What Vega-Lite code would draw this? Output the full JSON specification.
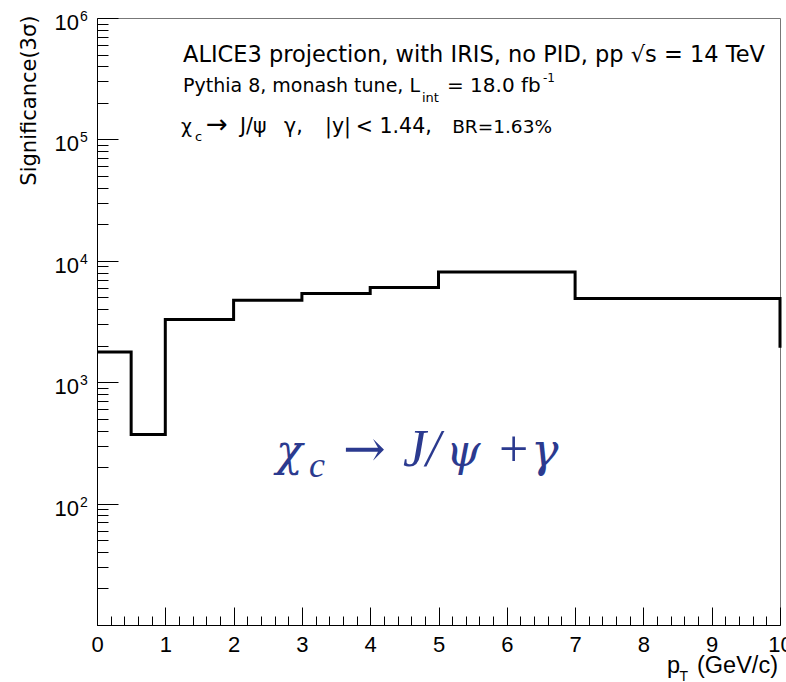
{
  "$schema": "https://vega.github.io/schema/vega-lite/v6.json",
  "width": 683,
  "height": 607,
  "autosize": {"type": "none"},
  "padding": {"left": 97, "top": 18, "right": 6, "bottom": 57},
  "background": "white",
  "config": {
    "view": {"stroke": "#777777", "strokeWidth": 1},
    "text": {"font": "DejaVu Sans", "color": "black", "align": "left", "baseline": "alphabetic"},
    "axis": {"grid": false, "domainColor": "black", "tickColor": "black", "labelColor": "black", "titleColor": "black", "domainWidth": 1, "tickWidth": 1}
  },
  "datasets": {
    "hist": [
      {"pt": 0, "sig": 1770},
      {"pt": 0.5, "sig": 370},
      {"pt": 1, "sig": 3290},
      {"pt": 2, "sig": 4740},
      {"pt": 3, "sig": 5380},
      {"pt": 4, "sig": 6040},
      {"pt": 5, "sig": 8070},
      {"pt": 7, "sig": 4900},
      {"pt": 10, "sig": 4900},
      {"pt": 10, "sig": 1920}
    ],
    "decades": [
      {"v": 100, "e": "2"},
      {"v": 1000, "e": "3"},
      {"v": 10000, "e": "4"},
      {"v": 100000, "e": "5"},
      {"v": 1000000, "e": "6"}
    ],
    "one": [{}]
  },
  "resolve": {"axis": {"x": "independent", "y": "independent"}},
  "layer": [
    {
      "data": {"name": "hist"},
      "mark": {"type": "line", "interpolate": "step-after", "color": "black", "strokeWidth": 3, "strokeJoin": "miter", "clip": false},
      "encoding": {
        "x": {"field": "pt", "type": "quantitative",
          "scale": {"domain": [0, 10], "nice": false, "zero": false},
          "axis": {"orient": "bottom", "values": [0,1,2,3,4,5,6,7,8,9,10], "tickSize": -18, "labelFont": "Liberation Sans", "labelFontSize": 22, "labelPadding": 27, "labelFlush": false, "labelOverlap": false, "labelBound": false, "format": "d", "title": null}},
        "y": {"field": "sig", "type": "quantitative",
          "scale": {"type": "log", "domain": [10, 1000000], "nice": false},
          "axis": {"orient": "left", "values": [10,100,1000,10000,100000,1000000], "tickSize": -21, "labels": false,
            "title": "Significance(3σ)", "titleFont": "DejaVu Sans", "titleFontSize": 21, "titleFontWeight": "normal",
            "titleAngle": -90, "titleAnchor": "end", "titleAlign": "right", "titleBaseline": "alphabetic", "titleX": -62, "titleY": -3}},
        "order": {"value": null}
      }
    },
    {
      "data": {"name": "decades"},
      "mark": {"type": "text", "align": "right", "font": "Liberation Sans", "dx": -18, "dy": 12, "fontSize": 22},
      "encoding": {
        "x": {"datum": 0, "type": "quantitative",
          "axis": {"orient": "bottom", "values": [0.2,0.4,0.6,0.8,1.2,1.4,1.6,1.8,2.2,2.4,2.6,2.8,3.2,3.4,3.6,3.8,4.2,4.4,4.6,4.8,5.2,5.4,5.6,5.8,6.2,6.4,6.6,6.8,7.2,7.4,7.6,7.8,8.2,8.4,8.6,8.8,9.2,9.4,9.6,9.8], "tickSize": -9, "labels": false, "domain": false, "title": null}},
        "y": {"field": "v", "type": "quantitative",
          "axis": {"orient": "left", "values": [20,30,40,50,60,70,80,90,200,300,400,500,600,700,800,900,2000,3000,4000,5000,6000,7000,8000,9000,20000,30000,40000,50000,60000,70000,80000,90000,200000,300000,400000,500000,600000,700000,800000,900000], "tickSize": -11, "labels": false, "domain": false, "title": null}},
        "text": {"value": "10"}
      }
    },
    {
      "data": {"name": "decades"},
      "mark": {"type": "text", "font": "Liberation Sans", "dx": -17, "dy": 3, "fontSize": 14},
      "encoding": {
        "x": {"datum": 0, "type": "quantitative", "axis": null},
        "y": {"field": "v", "type": "quantitative", "axis": null},
        "text": {"field": "e"}
      }
    },
    {
      "data": {"name": "one"},
      "mark": {"type": "text", "fontSize": 22.5},
      "encoding": {"x": {"datum": 1.259, "type": "quantitative", "axis": null}, "y": {"datum": 434000, "type": "quantitative", "axis": null}, "text": {"value": "ALICE3 projection, with IRIS, no PID, pp √s = 14 TeV"}}
    },
    {
      "data": {"name": "one"},
      "mark": {"type": "text", "fontSize": 19},
      "encoding": {"x": {"datum": 1.259, "type": "quantitative", "axis": null}, "y": {"datum": 244000, "type": "quantitative", "axis": null}, "text": {"value": "Pythia 8, monash tune, L"}}
    },
    {
      "data": {"name": "one"},
      "mark": {"type": "text", "fontSize": 13},
      "encoding": {"x": {"datum": 4.758, "type": "quantitative", "axis": null}, "y": {"datum": 204700, "type": "quantitative", "axis": null}, "text": {"value": "int"}}
    },
    {
      "data": {"name": "one"},
      "mark": {"type": "text", "fontSize": 20},
      "encoding": {"x": {"datum": 5.124, "type": "quantitative", "axis": null}, "y": {"datum": 244000, "type": "quantitative", "axis": null}, "text": {"value": "= 18.0 fb"}}
    },
    {
      "data": {"name": "one"},
      "mark": {"type": "text", "fontSize": 12},
      "encoding": {"x": {"datum": 6.53, "type": "quantitative", "axis": null}, "y": {"datum": 299000, "type": "quantitative", "axis": null}, "text": {"value": "-1"}}
    },
    {
      "data": {"name": "one"},
      "mark": {"type": "text", "fontSize": 19},
      "encoding": {"x": {"datum": 1.23, "type": "quantitative", "axis": null}, "y": {"datum": 113500, "type": "quantitative", "axis": null}, "text": {"value": "χ"}}
    },
    {
      "data": {"name": "one"},
      "mark": {"type": "text", "fontSize": 13},
      "encoding": {"x": {"datum": 1.435, "type": "quantitative", "axis": null}, "y": {"datum": 97500, "type": "quantitative", "axis": null}, "text": {"value": "c"}}
    },
    {
      "data": {"name": "one"},
      "mark": {"type": "text", "fontSize": 26},
      "encoding": {"x": {"datum": 1.596, "type": "quantitative", "axis": null}, "y": {"datum": 113500, "type": "quantitative", "axis": null}, "text": {"value": "→"}}
    },
    {
      "data": {"name": "one"},
      "mark": {"type": "text", "fontSize": 20.5},
      "encoding": {"x": {"datum": 2.094, "type": "quantitative", "axis": null}, "y": {"datum": 113500, "type": "quantitative", "axis": null}, "text": {"value": "J/ψ"}}
    },
    {
      "data": {"name": "one"},
      "mark": {"type": "text", "fontSize": 20.5},
      "encoding": {"x": {"datum": 2.738, "type": "quantitative", "axis": null}, "y": {"datum": 113500, "type": "quantitative", "axis": null}, "text": {"value": "γ,"}}
    },
    {
      "data": {"name": "one"},
      "mark": {"type": "text", "fontSize": 20.5},
      "encoding": {"x": {"datum": 3.338, "type": "quantitative", "axis": null}, "y": {"datum": 113500, "type": "quantitative", "axis": null}, "text": {"value": "|y|"}}
    },
    {
      "data": {"name": "one"},
      "mark": {"type": "text", "fontSize": 20.5},
      "encoding": {"x": {"datum": 3.79, "type": "quantitative", "axis": null}, "y": {"datum": 113500, "type": "quantitative", "axis": null}, "text": {"value": "< 1.44,"}}
    },
    {
      "data": {"name": "one"},
      "mark": {"type": "text", "fontSize": 18.5},
      "encoding": {"x": {"datum": 5.2, "type": "quantitative", "axis": null}, "y": {"datum": 113500, "type": "quantitative", "axis": null}, "text": {"value": "BR=1.63%"}}
    },
    {
      "data": {"name": "one"},
      "mark": {"type": "text", "font": "DejaVu Serif", "fontStyle": "italic", "fontSize": 44, "color": "#2B3A8F"},
      "encoding": {"x": {"datum": 2.621, "type": "quantitative", "axis": null}, "y": {"datum": 204, "type": "quantitative", "axis": null}, "text": {"value": "χ"}}
    },
    {
      "data": {"name": "one"},
      "mark": {"type": "text", "font": "Liberation Serif", "fontStyle": "italic", "fontSize": 36, "color": "#2B3A8F"},
      "encoding": {"x": {"datum": 3.104, "type": "quantitative", "axis": null}, "y": {"datum": 165.6, "type": "quantitative", "axis": null}, "text": {"value": "c"}}
    },
    {
      "data": {"name": "one"},
      "mark": {"type": "text", "font": "DejaVu Serif", "fontSize": 51, "color": "#2B3A8F"},
      "encoding": {"x": {"datum": 3.602, "type": "quantitative", "axis": null}, "y": {"datum": 204, "type": "quantitative", "axis": null}, "text": {"value": "→"}}
    },
    {
      "data": {"name": "one"},
      "mark": {"type": "text", "font": "Liberation Serif", "fontStyle": "italic", "fontSize": 52, "color": "#2B3A8F"},
      "encoding": {"x": {"datum": 4.48, "type": "quantitative", "axis": null}, "y": {"datum": 204, "type": "quantitative", "axis": null}, "text": {"value": "J/"}}
    },
    {
      "data": {"name": "one"},
      "mark": {"type": "text", "font": "DejaVu Serif", "fontStyle": "italic", "fontSize": 44, "color": "#2B3A8F"},
      "encoding": {"x": {"datum": 5.11, "type": "quantitative", "axis": null}, "y": {"datum": 204, "type": "quantitative", "axis": null}, "text": {"value": "ψ"}}
    },
    {
      "data": {"name": "one"},
      "mark": {"type": "text", "font": "Liberation Serif", "fontSize": 52, "color": "#2B3A8F"},
      "encoding": {"x": {"datum": 5.886, "type": "quantitative", "axis": null}, "y": {"datum": 204, "type": "quantitative", "axis": null}, "text": {"value": "+"}}
    },
    {
      "data": {"name": "one"},
      "mark": {"type": "text", "font": "DejaVu Serif", "fontStyle": "italic", "fontSize": 46, "color": "#2B3A8F"},
      "encoding": {"x": {"datum": 6.354, "type": "quantitative", "axis": null}, "y": {"datum": 204, "type": "quantitative", "axis": null}, "text": {"value": "γ"}}
    },
    {
      "data": {"name": "one"},
      "mark": {"type": "text", "font": "Liberation Sans", "fontSize": 23.5},
      "encoding": {"x": {"datum": 8.345, "type": "quantitative", "axis": null}, "y": {"datum": 4.01, "type": "quantitative", "axis": null}, "text": {"value": "p"}}
    },
    {
      "data": {"name": "one"},
      "mark": {"type": "text", "font": "Liberation Sans", "fontSize": 14},
      "encoding": {"x": {"datum": 8.53, "type": "quantitative", "axis": null}, "y": {"datum": 3.45, "type": "quantitative", "axis": null}, "text": {"value": "T"}}
    },
    {
      "data": {"name": "one"},
      "mark": {"type": "text", "font": "Liberation Sans", "fontSize": 23.5},
      "encoding": {"x": {"datum": 8.785, "type": "quantitative", "axis": null}, "y": {"datum": 4.01, "type": "quantitative", "axis": null}, "text": {"value": "(GeV/c)"}}
    }
  ]
}
